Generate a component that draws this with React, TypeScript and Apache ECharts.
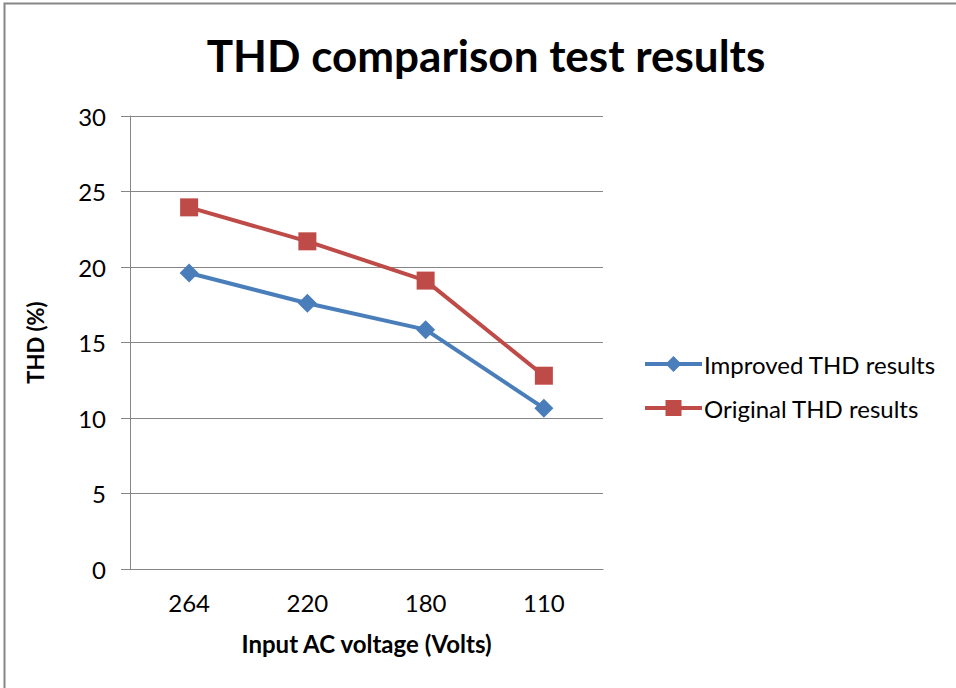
import React, { useEffect, useRef } from "react";
import * as echarts from "echarts";

const categories = ["264", "220", "180", "110"];
const improved = [19.6, 17.6, 15.85, 10.65];
const original = [23.95, 21.7, 19.1, 12.8];
const yTicks = { min: 0, max: 30, interval: 5 };

const FONT = "Lato, 'Open Sans', sans-serif";

export default function App() {
  const ref = useRef<HTMLDivElement>(null);
  useEffect(() => {
    if (!ref.current) return;
    const chart = echarts.init(ref.current, null, { renderer: "svg" });
    chart.setOption({
      animation: false,
      backgroundColor: "#ffffff",
      textStyle: { fontFamily: FONT },
      title: {
        text: "THD comparison test results",
        left: 481,
        top: 28,
        textAlign: "center",
        textStyle: { fontFamily: FONT, fontSize: 44, fontWeight: "bold", color: "#000" },
      },
      grid: { left: 130, right: 353, top: 116, bottom: 119, containLabel: false },
      legend: {
        orient: "vertical",
        left: 643,
        top: 352,
        padding: 0,
        itemWidth: 57,
        itemHeight: 20,
        itemGap: 20,
        lineStyle: { width: 4 },
        textStyle: { fontFamily: FONT, fontSize: 24, color: "#000", padding: [0, 0, 0, -3] },
        data: ["Improved THD results", "Original THD results"],
      },
      xAxis: {
        type: "category",
        data: categories,
        boundaryGap: true,
        name: "Input AC voltage (Volts)",
        nameLocation: "middle",
        nameGap: 62,
        nameTextStyle: { fontFamily: FONT, fontSize: 24, fontWeight: "bold", color: "#000" },
        axisLine: { lineStyle: { color: "#868686", width: 1 } },
        axisTick: { show: false },
        axisLabel: { fontFamily: FONT, fontSize: 24, color: "#000", margin: 21 },
        splitLine: { show: false },
      },
      yAxis: {
        type: "value",
        min: yTicks.min,
        max: yTicks.max,
        interval: yTicks.interval,
        name: "THD (%)",
        nameLocation: "middle",
        nameGap: 84,
        nameRotate: 90,
        nameTextStyle: { fontFamily: FONT, fontSize: 22, fontWeight: "bold", color: "#000" },
        axisLine: { show: true, lineStyle: { color: "#868686", width: 1 } },
        axisTick: { show: true, length: 9, lineStyle: { color: "#868686" } },
        axisLabel: { fontFamily: FONT, fontSize: 24, color: "#000", margin: 24 },
        splitLine: { show: true, lineStyle: { color: "#868686", width: 1 } },
      },
      series: [
        {
          name: "Improved THD results",
          type: "line",
          data: improved,
          symbol: "diamond",
          symbolSize: 19,
          itemStyle: { color: "#4A7EBB" },
          lineStyle: { color: "#4A7EBB", width: 4 },
        },
        {
          name: "Original THD results",
          type: "line",
          data: original,
          symbol: "rect",
          symbolSize: 18,
          itemStyle: { color: "#BE4B48" },
          lineStyle: { color: "#BE4B48", width: 4 },
        },
      ],
      graphic: [
        {
          type: "rect",
          shape: { x: 4.5, y: 3.5, width: 1200, height: 1200 },
          style: { fill: "none", stroke: "#868686", lineWidth: 2 },
          silent: true,
        },
      ],
    });
    return () => chart.dispose();
  }, []);
  return (
    <div
      ref={ref}
      style={{ position: "fixed", left: 0, top: 0, width: 956, height: 688 }}
    />
  );
}
